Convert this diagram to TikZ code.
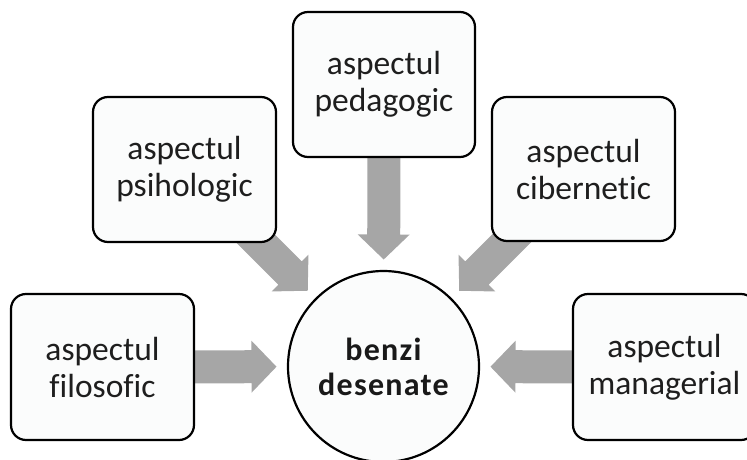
\documentclass[tikz,border=0pt]{standalone}
\usepackage{fontspec}
\setmainfont{Carlito}[Ligatures=NoCommon]
\usetikzlibrary{calc}
\pgfdeclarelayer{background}
\pgfsetlayers{background,main}

\definecolor{arrowfill}{RGB}{166,166,166}
\definecolor{boxfill}{RGB}{251,252,252}
\definecolor{textgray}{RGB}{30,30,30}

% Broad block arrow from a start coordinate towards a target node,
% its tip stopping 107pt from the target's centre.
\newcommand\fatarrow[2]{%
  \fill[arrowfill] let \p1=(#1), \p2=($(#2)!107pt!(#1)$),
      \n1={atan2(\y2-\y1,\x2-\x1)}, \n2={veclen(\x2-\x1,\y2-\y1)} in
    [shift={(\p1)}, rotate=\n1]
    (0,-16.5) -- ({\n2-25},-16.5) -- ({\n2-25},-26) -- (\n2,0)
    -- ({\n2-25},26) -- ({\n2-25},16.5) -- (0,16.5) -- cycle;
}

\tikzset{
  aspectbox/.style={draw=black, line width=2.2pt, fill=boxfill,
    rounded corners=15pt, inner sep=0pt, align=center, text=textgray,
    font=\fontsize{33.5}{37}\selectfont},
  hub/.style={draw=black, line width=2.2pt, fill=boxfill, circle,
    inner sep=0pt, minimum size=191pt, align=center, text=black!90,
    font=\bfseries\fontsize{32}{35}\selectfont\addfontfeature{LetterSpace=4}}
}

\begin{document}
\begin{tikzpicture}[x=1pt,y=1pt]
  \useasboundingbox (0,0) rectangle (747,459);
  \begin{scope}
    \clip (0,0) rectangle (747,459);

    \node[hub] (c) at (383.5,92.5) {benzi\\desenate};

    \node[aspectbox, minimum width=183pt, minimum height=146pt]
      (fil) at (102.5,92) {aspectul\\filosofic};
    \node[aspectbox, minimum width=183pt, minimum height=145pt]
      (psi) at (184.5,289.5) {aspectul\\psihologic};
    \node[aspectbox, minimum width=182pt, minimum height=145pt]
      (ped) at (384,374.5) {aspectul\\pedagogic};
    \node[aspectbox, minimum width=183pt, minimum height=144pt]
      (cib) at (583.5,290) {aspectul\\cibernetic};
    \node[aspectbox, minimum width=183pt, minimum height=146pt]
      (man) at (664.5,92) {aspectul\\managerial};

    % start points of the diagonal arrows, hidden inside their boxes
    \coordinate (psi-a) at (240,236);
    \coordinate (cib-a) at (528,237);

    \begin{pgfonlayer}{background}
      \fatarrow{fil.center}{c}
      \fatarrow{man.center}{c}
      \fatarrow{ped.center}{c}
      \fatarrow{psi-a}{c}
      \fatarrow{cib-a}{c}
    \end{pgfonlayer}
  \end{scope}
\end{tikzpicture}
\end{document}
